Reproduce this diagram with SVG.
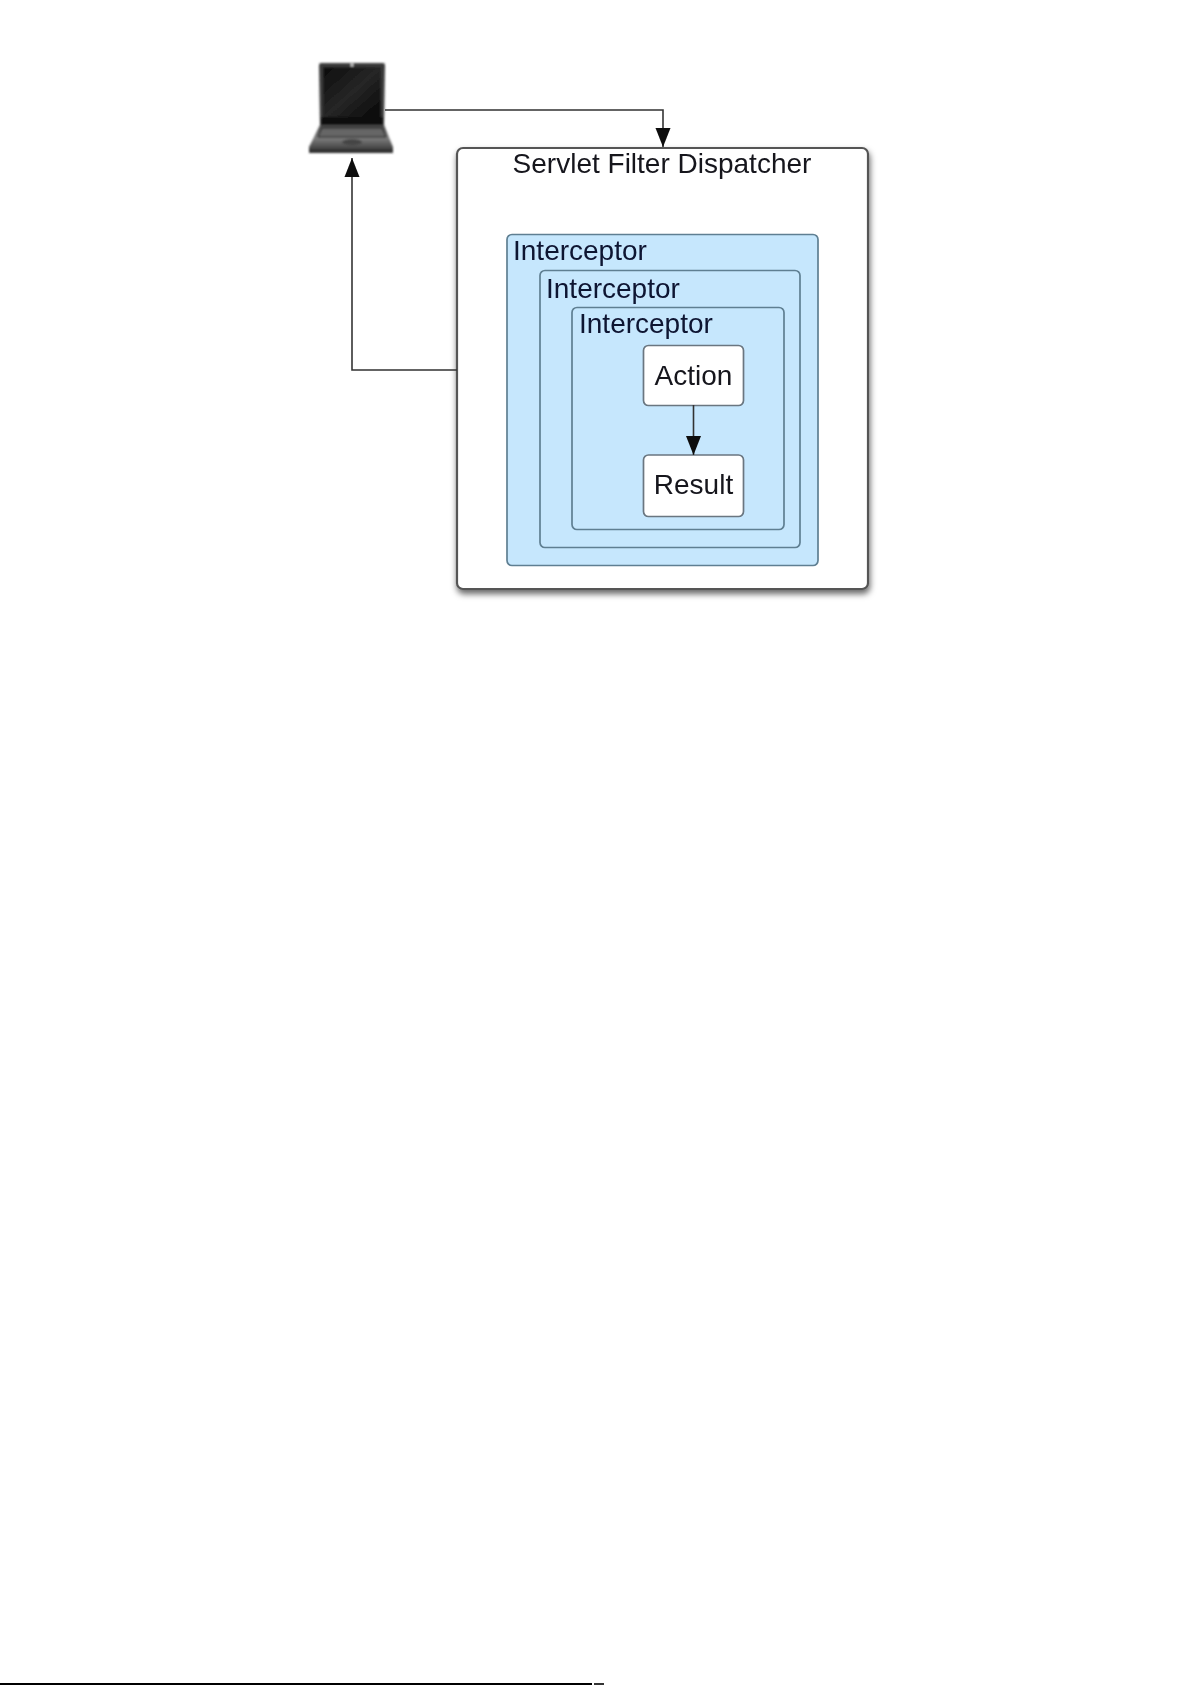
<svg xmlns="http://www.w3.org/2000/svg" width="1191" height="1685" viewBox="0 0 1191 1685">
<style>
text{font-family:"Liberation Sans",Arial,sans-serif;font-size:28px;fill:#14141c}
.blue{fill:#c6e7fd;stroke:#5f7f92;stroke-width:1.7}
.white{fill:#fff;stroke:#6a7680;stroke-width:1.7}
.wire{fill:none;stroke:#333;stroke-width:1.6}
.label{fill:#0e1230}
</style>
<defs>
<marker id="head" markerUnits="userSpaceOnUse" markerWidth="20" markerHeight="16" refX="19" refY="8" orient="auto"><path d="M0 0.5L19 8L0 15.5Z" fill="#0c0c0c"/></marker>
<filter id="shadow" x="-5%" y="-5%" width="110%" height="110%"><feDropShadow dx="1" dy="4" stdDeviation="3" flood-color="#000" flood-opacity="0.6"/></filter>
<filter id="soft" x="-10%" y="-10%" width="120%" height="120%"><feGaussianBlur stdDeviation="0.9"/></filter>
<filter id="page" filterUnits="userSpaceOnUse" x="0" y="0" width="1191" height="640"><feGaussianBlur stdDeviation="0.45"/></filter>
<linearGradient id="screen" x1="0" y1="0" x2="1" y2="1"><stop offset="0" stop-color="#0c0c0c"/><stop offset="0.5" stop-color="#262626"/><stop offset="1" stop-color="#050505"/></linearGradient>
<linearGradient id="deck" x1="0" y1="0" x2="0" y2="1"><stop offset="0" stop-color="#444"/><stop offset="0.5" stop-color="#7a7a7a"/><stop offset="1" stop-color="#333"/></linearGradient>
</defs>
<rect width="1191" height="1685" fill="#fff"/>
<g id="diagram" filter="url(#page)">
<g id="laptop" filter="url(#soft)">
<path d="M321 63H383Q385 63 385 66L384 126H320L319 66Q319 63 321 63Z" fill="#3a3a3a"/>
<rect x="323" y="67" width="58" height="52" fill="url(#screen)"/>
<rect x="321" y="117" width="62" height="9" fill="#0a0a0a"/>
<circle cx="352" cy="65" r="1.5" fill="#ddd"/>
<path d="M320 125H384L393 147V152H309V147Z" fill="url(#deck)"/>
<path d="M322 128H382L386 137H318Z" fill="#666" stroke="#222" stroke-width="1"/>
<ellipse cx="352" cy="142" rx="10" ry="3" fill="#444"/>
<rect x="309" y="149" width="84" height="4" fill="#333"/>
</g>
<g id="servlet-filter-dispatcher">
<rect x="457" y="148" width="411" height="441" rx="6" fill="#fff" stroke="#555" stroke-width="2.2" filter="url(#shadow)"/>
<text x="662" y="173" text-anchor="middle">Servlet Filter Dispatcher</text>
</g>
<g id="interceptor-1">
<rect class="blue" x="507" y="234.5" width="311" height="331" rx="5"/>
<text class="label" x="513" y="260">Interceptor</text>
</g>
<g id="interceptor-2">
<rect class="blue" x="540" y="270.5" width="260" height="277" rx="5"/>
<text class="label" x="546" y="298">Interceptor</text>
</g>
<g id="interceptor-3">
<rect class="blue" x="572" y="307.5" width="212" height="222" rx="5"/>
<text class="label" x="579" y="333">Interceptor</text>
</g>
<g id="action">
<rect class="white" x="643.5" y="345.5" width="100" height="60" rx="5"/>
<text x="693.5" y="385" text-anchor="middle">Action</text>
</g>
<g id="result">
<rect class="white" x="643.5" y="455" width="100" height="61.5" rx="5"/>
<text x="693.5" y="494" text-anchor="middle">Result</text>
</g>
<g id="connectors">
<path class="wire" d="M385 110H663V147" marker-end="url(#head)"/>
<path class="wire" d="M457 370H352V158" marker-end="url(#head)"/>
<path class="wire" d="M693.5 405V455" marker-end="url(#head)"/>
</g>
</g>
<g id="page-edge">
<rect x="0" y="1683" width="592" height="2" fill="#000"/>
<rect x="594" y="1683" width="10" height="2" fill="#333"/>
</g>
</svg>
